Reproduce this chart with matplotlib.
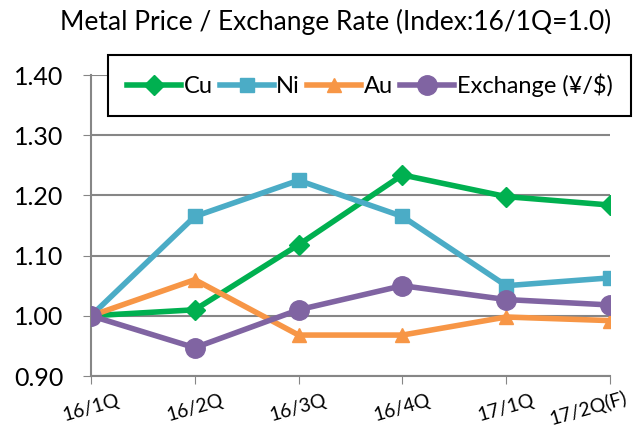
import matplotlib.pyplot as plt

plt.rcParams['font.family'] = ['Lato', 'DejaVu Sans']

quarters = ['16/1Q', '16/2Q', '16/3Q', '16/4Q', '17/1Q', '17/2Q(F)']
cu = [1.00, 1.01, 1.118, 1.234, 1.198, 1.184]
ni = [1.00, 1.165, 1.225, 1.165, 1.050, 1.063]
au = [1.00, 1.060, 0.968, 0.968, 0.998, 0.992]
exchange = [1.00, 0.947, 1.010, 1.050, 1.027, 1.018]

fig = plt.figure(figsize=(6.34, 4.37), dpi=100)
ax = fig.add_axes([91 / 634, 1 - 376 / 437, 519 / 634, 301 / 437])

x = range(len(quarters))
ax.plot(x, cu, color='#00b050', marker='D', markersize=10, lw=4, label='Cu', zorder=3)
ax.plot(x, ni, color='#4bacc6', marker='s', markersize=10, lw=4, label='Ni', zorder=3)
ax.plot(x, au, color='#f79646', marker='^', markersize=10, lw=4, label='Au', zorder=3)
ax.plot(x, exchange, color='#8064a2', marker='o', markersize=14, lw=4,
        label='Exchange (¥/$)', zorder=4)

ax.set_xlim(0, len(quarters) - 1)
ax.set_ylim(0.90, 1.40)
ax.set_yticks([0.90, 1.00, 1.10, 1.20, 1.30, 1.40])
ax.set_yticklabels(['%.2f' % v for v in ax.get_yticks()], fontsize=18)
ax.set_xticks(list(x))
ax.set_xticklabels([])
ax.tick_params(axis='x', length=6, color='#868686')
ax.tick_params(axis='y', length=6, color='#868686', pad=14)
ax.yaxis.grid(True, color='#868686', lw=1.5)
ax.set_axisbelow(True)
for side in ['top', 'right']:
    ax.spines[side].set_visible(False)
for side in ['left', 'bottom']:
    ax.spines[side].set_color('#868686')
    ax.spines[side].set_linewidth(1.5)
ax.patch.set_alpha(0)

# category labels, tilted; the last one is pulled in from the right edge
for i, q in enumerate(quarters):
    dx = -16 if i == len(quarters) - 1 else 0
    ax.annotate(q, xy=(i, 0), xycoords=('data', 'axes fraction'),
                xytext=(dx, -23), textcoords='offset points',
                rotation=16, ha='center', va='center', fontsize=14)

fig.text(0.530, 1 - 22 / 437, 'Metal Price / Exchange Rate (Index:16/1Q=1.0)',
         ha='center', va='center', fontsize=19)

leg = fig.legend(loc='upper left', bbox_to_anchor=(108 / 634, 1 - 55 / 437),
                 ncol=4, fontsize=17, frameon=True, fancybox=False, borderpad=0.8,
                 handlelength=2.3, handletextpad=0.1, columnspacing=0.3, borderaxespad=0)
leg.get_frame().set_edgecolor('black')
leg.get_frame().set_linewidth(1.5)
leg.get_frame().set_alpha(1)

fig.savefig('out.png', dpi=100)
